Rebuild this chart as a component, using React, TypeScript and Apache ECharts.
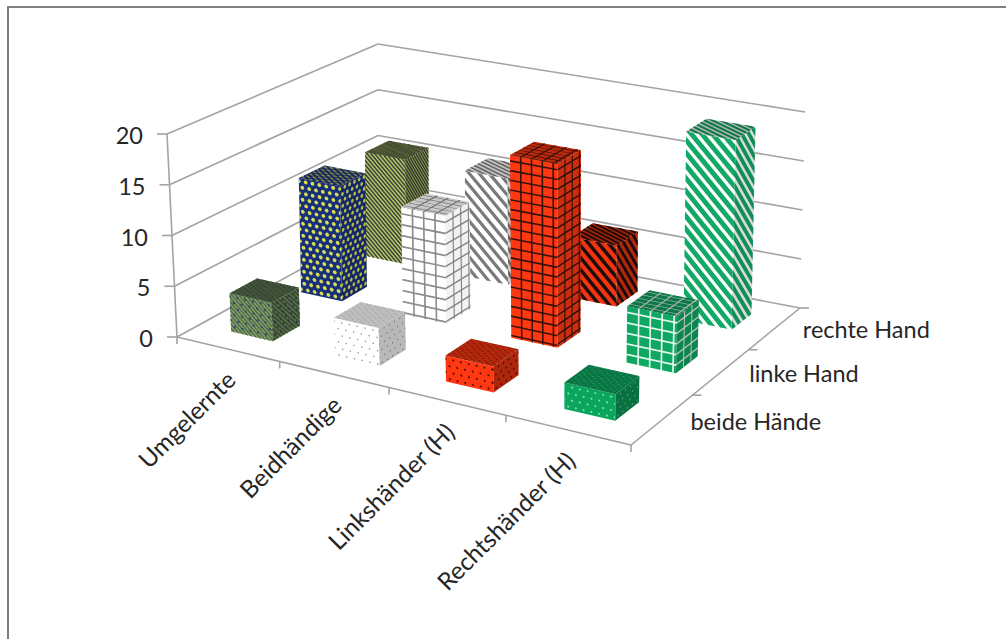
import React, { useEffect, useRef } from "react";
import * as echarts from "echarts";

const categories = ["Umgelernte", "Beidhändige", "Linkshänder (H)", "Rechtshänder (H)"];
const depthLabels = ["beide Hände", "linke Hand", "rechte Hand"];
const valueTicks = [0, 5, 10, 15, 20];

const beideHaende = [3.8, 3.7, 2.5, 2.5];
const linkeHand = [11.7, 10.8, 18.1, 5.5];
const rechteHand = [11, 11, 6.2, 19];

const W = 1006;
const H = 639;
const FONT = "Lato, 'Open Sans', sans-serif";
const AXIS_COLOR = "#a3a3a3";
const TEXT_COLOR = "#262626";

type Pt = [number, number];

// Screen corners of the chart box, as [front-left, front-right, back-right, back-left].
const floorQuad: Pt[] = [[177, 337], [631, 445], [800, 308], [378, 227]];
const ceilingQuad: Pt[] = [[167, 134], [635, 230], [805, 112], [378, 44]];

// Perspective map of the unit square onto a screen quad.
function quadMap(q: Pt[]) {
  const [[x0, y0], [x1, y1], [x2, y2], [x3, y3]] = q;
  const dx1 = x1 - x2, dx2 = x3 - x2, sx = x0 - x1 + x2 - x3;
  const dy1 = y1 - y2, dy2 = y3 - y2, sy = y0 - y1 + y2 - y3;
  const den = dx1 * dy2 - dx2 * dy1;
  const g = (sx * dy2 - dx2 * sy) / den;
  const h = (dx1 * sy - sx * dy1) / den;
  const a = x1 - x0 + g * x1, b = x3 - x0 + h * x3;
  const d = y1 - y0 + g * y1, e = y3 - y0 + h * y3;
  return (u: number, v: number): Pt => {
    const w = g * u + h * v + 1;
    return [(a * u + b * v + x0) / w, (d * u + e * v + y0) / w];
  };
}
const floorAt = quadMap(floorQuad);
const ceilingAt = quadMap(ceilingQuad);

// u runs along the categories, v along the rows in depth, z from floor to ceiling.
function project(u: number, v: number, z: number): Pt {
  const f = floorAt(u, v);
  const c = ceilingAt(u, v);
  return [f[0] + (c[0] - f[0]) * z, f[1] + (c[1] - f[1]) * z];
}

type Fill = {
  kind: "dots" | "grid" | "stripes";
  bg: string;
  fg: string;
  px: number;
  py: number;
  size: number;
  rightShade?: number;
  topShade?: number;
  under?: { fg: string; px: number; size: number };
};

// Fill of every bar, by [category][depth row].
const barFills: Fill[][] = [
  [
    {
      kind: "dots", bg: "#7f9c68", fg: "#2f4a72", px: 8, py: 6, size: 1.3, rightShade: 0.68, topShade: 0.62,
      under: { fg: "#4c6442", px: 4.5, size: 0.4 },
    },
    { kind: "dots", bg: "#17307a", fg: "#dcdc54", px: 7, py: 6, size: 2.1, rightShade: 0.85, topShade: 0.78 },
    { kind: "stripes", bg: "#c0cd72", fg: "#3e4a38", px: 4.6, py: 4.6, size: 0.55, rightShade: 0.72, topShade: 0.65 },
  ],
  [
    { kind: "dots", bg: "#ffffff", fg: "#9a9a9a", px: 8, py: 6.6, size: 0.9, rightShade: 0.72, topShade: 0.74 },
    { kind: "grid", bg: "#ffffff", fg: "#8c8c8c", px: 11.5, py: 11, size: 1.7, rightShade: 0.95, topShade: 0.78 },
    { kind: "stripes", bg: "#ffffff", fg: "#7a7a7a", px: 12, py: 12, size: 0.42, rightShade: 0.8, topShade: 0.75 },
  ],
  [
    { kind: "dots", bg: "#ff3812", fg: "#5a1206", px: 8, py: 6.6, size: 1.2, rightShade: 0.68, topShade: 0.7 },
    { kind: "grid", bg: "#ff3812", fg: "#33120c", px: 11, py: 9.7, size: 1.6, rightShade: 0.8, topShade: 0.72 },
    { kind: "stripes", bg: "#f23510", fg: "#1e0d0a", px: 12, py: 12, size: 0.45, rightShade: 0.72, topShade: 0.62 },
  ],
  [
    { kind: "dots", bg: "#0aa65e", fg: "#8fe0b5", px: 8, py: 6.6, size: 1.1, rightShade: 0.68, topShade: 0.72 },
    { kind: "grid", bg: "#0fa862", fg: "#e6f6ee", px: 12, py: 10.5, size: 1.7, rightShade: 0.8, topShade: 0.72 },
    { kind: "stripes", bg: "#ffffff", fg: "#12a866", px: 12.5, py: 12.5, size: 0.6, rightShade: 0.85, topShade: 0.72 },
  ],
];

function shade(hex: string, f: number) {
  const n = parseInt(hex.slice(1), 16);
  const c = [(n >> 16) & 255, (n >> 8) & 255, n & 255].map((v) => Math.round(v * f));
  return `rgb(${c[0]},${c[1]},${c[2]})`;
}

function clip(poly: Pt[], inside: (p: Pt) => number) {
  const out: Pt[] = [];
  for (let i = 0; i < poly.length; i++) {
    const a = poly[i];
    const b = poly[(i + 1) % poly.length];
    const da = inside(a);
    const db = inside(b);
    if (da >= 0) out.push(a);
    if (da * db < 0) {
      const t = da / (da - db);
      out.push([a[0] + (b[0] - a[0]) * t, a[1] + (b[1] - a[1]) * t]);
    }
  }
  return out;
}

// Builds an SVG path of a motif on a face measured w x h, mapped to the screen by toScreen.
function motifPath(
  fill: { kind: string; px: number; py: number; size: number },
  w: number,
  h: number,
  toScreen: (a: number, b: number) => Pt,
) {
  const rect: Pt[] = [[0, 0], [w, 0], [w, h], [0, h]];
  let d = "";
  const emit = (poly: Pt[]) => {
    if (poly.length < 3) return;
    poly.forEach((p, i) => {
      const s = toScreen(p[0] / w, p[1] / h);
      d += `${i ? "L" : "M"}${s[0].toFixed(1)} ${s[1].toFixed(1)}`;
    });
    d += "Z";
  };
  if (fill.kind === "stripes") {
    const band = fill.px * fill.size;
    for (let k = Math.floor(-h / fill.px) - 1; k * fill.px < w; k++) {
      const lo = k * fill.px;
      emit(clip(clip(rect, (p) => p[0] - p[1] - lo), (p) => lo + band - (p[0] - p[1])));
    }
  } else if (fill.kind === "grid") {
    for (let x = fill.px; x < w; x += fill.px) {
      emit(clip(clip(rect, (p) => p[0] - (x - fill.size / 2)), (p) => x + fill.size / 2 - p[0]));
    }
    for (let y = fill.py * 0.6; y < h; y += fill.py) {
      emit(clip(clip(rect, (p) => p[1] - (y - fill.size / 2)), (p) => y + fill.size / 2 - p[1]));
    }
  } else {
    let row = 0;
    for (let y = fill.py / 2; y < h; y += fill.py, row++) {
      for (let x = row % 2 ? fill.px / 2 : 0; x < w + fill.px; x += fill.px) {
        const hex: Pt[] = [0, 1, 2, 3, 4, 5].map((i) => [
          x + fill.size * Math.cos((i * Math.PI) / 3),
          y + fill.size * Math.sin((i * Math.PI) / 3),
        ]);
        let poly = hex;
        poly = clip(poly, (p) => p[0]);
        poly = clip(poly, (p) => w - p[0]);
        poly = clip(poly, (p) => h - p[1]);
        emit(poly);
      }
    }
  }
  return d;
}

const dist = (p: Pt, q: Pt) => Math.hypot(p[0] - q[0], p[1] - q[1]);

// Draws one face; the stretch factors give the motif more room on faces seen at a flat angle.
function faceChildren(
  fill: Fill,
  mult: number,
  stretchW: number,
  stretchH: number,
  map: (a: number, b: number) => Pt,
) {
  const w = dist(map(0, 0), map(1, 0)) * stretchW;
  const h = dist(map(0, 0), map(0, 1)) * stretchH;
  const outline = [map(0, 0), map(1, 0), map(1, 1), map(0, 1)];
  const out: any[] = [
    { type: "polygon", shape: { points: outline }, style: { fill: shade(fill.bg, mult) } },
  ];
  if (fill.under) {
    const u = { kind: "stripes", px: fill.under.px, py: fill.under.px, size: fill.under.size };
    out.push({
      type: "path",
      shape: { pathData: motifPath(u, w, h, map) },
      style: { fill: shade(fill.under.fg, mult) },
    });
  }
  out.push({
    type: "path",
    shape: { pathData: motifPath(fill, w, h, map) },
    style: { fill: shade(fill.fg, mult) },
  });
  return out;
}

const BAR_U = 0.41;
const BAR_V = 0.38;
const BAR_SHIFT_U = 0.004;

const barData: number[][] = [];
[rechteHand, linkeHand, beideHaende].forEach((row, r) => {
  row.forEach((value, cat) => barData.push([cat, value, 2 - r]));
});

function renderBar(_: any, api: any) {
  const cat = api.value(0);
  const depth = api.value(2);
  const [cx, y] = api.coord([cat, api.value(1)]);
  const z = 1 - y / H;
  const cell = api.size([1, 0])[0] / W;
  const uMid = cx / W + BAR_SHIFT_U;
  const u0 = uMid - (cell * BAR_U) / 2;
  const u1 = uMid + (cell * BAR_U) / 2;
  const dCell = 1 / depthLabels.length;
  const v0 = (depth + 0.5) * dCell - (dCell * BAR_V) / 2;
  const v1 = (depth + 0.5) * dCell + (dCell * BAR_V) / 2;
  const fill = barFills[cat][depth];
  const lerp = (p: number, q: number, t: number) => p + (q - p) * t;
  const sideStretch = fill.kind === "stripes" ? 2 : 1.3;
  const topStretch = fill.kind === "grid" ? 2 : 3;
  const children = [
    ...faceChildren(fill, 1, 1, 1, (a, b) => project(lerp(u0, u1, a), v0, z * (1 - b))),
    ...faceChildren(fill, fill.rightShade ?? 0.75, sideStretch, 1, (a, b) => project(u1, lerp(v0, v1, a), z * (1 - b))),
    ...faceChildren(fill, fill.topShade ?? 0.75, 1, topStretch, (a, b) => project(lerp(u0, u1, a), lerp(v1, v0, b), z)),
  ];
  return { type: "group", children };
}

function line(p: Pt, q: Pt) {
  return {
    type: "line",
    shape: { x1: p[0], y1: p[1], x2: q[0], y2: q[1] },
    style: { stroke: AXIS_COLOR, lineWidth: 1.6 },
  };
}

function label(text: string, x: number, y: number, align: string, rotation = 0, size = 23.5) {
  return {
    type: "text",
    x,
    y,
    rotation,
    style: {
      text,
      fill: TEXT_COLOR,
      font: `${size}px ${FONT}`,
      textAlign: align,
      textVerticalAlign: "middle",
    },
  };
}

function renderFrame(_: any, api: any) {
  const children: any[] = [];
  valueTicks.forEach((t) => {
    const z = 1 - api.coord([0, t])[1] / H;
    const a = project(0, 0, z);
    const b = project(0, 1, z);
    const c = project(1, 1, z);
    children.push(line(a, b), line(b, c));
    children.push(line(a, [a[0] - 10, a[1]]));
    children.push(label(String(t), a[0] - 24, a[1] + 1, "right"));
  });
  children.push(line(project(0, 0, 0), project(0, 0, 1)));
  children.push(line(project(0, 0, 0), project(1, 0, 0)));
  children.push(line(project(1, 0, 0), project(1, 1, 0)));
  for (let i = 0; i <= categories.length; i++) {
    const p = project(i / categories.length, 0, 0);
    children.push(line(p, [p[0], p[1] + 7]));
    if (i < categories.length) {
      const m = project((i + 0.5) / categories.length, 0, 0);
      children.push(label(categories[i], m[0] + 3, m[1] + 26, "right", Math.PI / 4, 24.3));
    }
  }
  for (let i = 1; i <= depthLabels.length; i++) {
    const p = project(1, i / depthLabels.length, 0);
    children.push(line(p, [p[0] + 9, p[1]]));
    const m = project(1, (i - 0.5) / depthLabels.length, 0);
    children.push(label(depthLabels[i - 1], m[0] + 28, m[1] + 1, "left"));
  }
  return { type: "group", children };
}

export default function App() {
  const ref = useRef<HTMLDivElement>(null);
  useEffect(() => {
    document.body.style.margin = "0";
    const chart = echarts.init(ref.current!, null, { renderer: "svg", width: W, height: H });
    chart.setOption({
      animation: false,
      backgroundColor: "#ffffff",
      grid: { left: 0, right: 0, top: 0, bottom: 0 },
      xAxis: { type: "category", data: categories, show: false },
      yAxis: { type: "value", min: 0, max: 20, show: false },
      graphic: [
        {
          type: "rect",
          z: -10,
          shape: { x: 8, y: 7, width: 1100, height: 700 },
          style: { fill: "#ffffff", stroke: "#808080", lineWidth: 2 },
        },
      ],
      series: [
        { type: "custom", renderItem: renderFrame, data: [[0, 0]], z: 1, silent: true, clip: false },
        {
          type: "custom",
          renderItem: renderBar,
          data: barData,
          encode: { x: 0, y: 1 },
          dimensions: ["category", "value", "depth"],
          z: 2,
          silent: true,
          clip: false,
        },
      ],
    });
    return () => chart.dispose();
  }, []);
  return <div ref={ref} style={{ width: W, height: H }} />;
}
